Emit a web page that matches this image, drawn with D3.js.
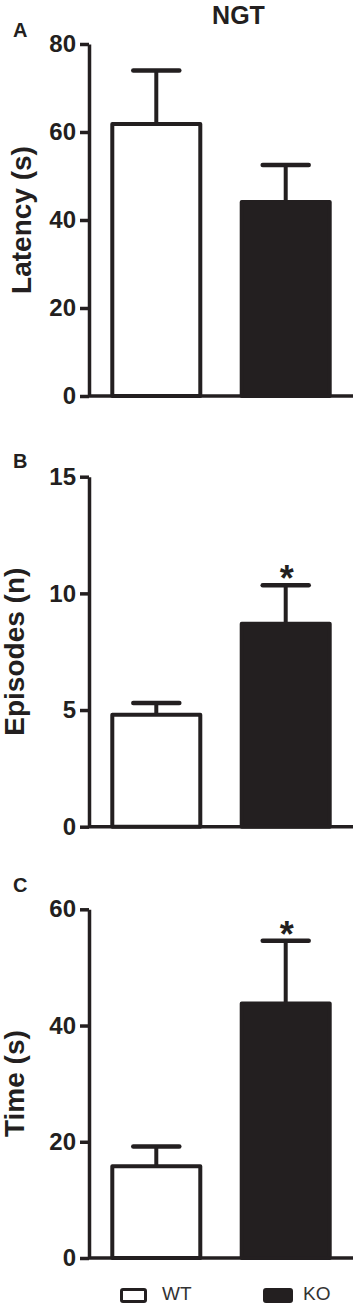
<!DOCTYPE html>
<html>
  <head>
    <meta charset="utf-8" />
    <title>NGT</title>
    <script src="https://d3js.org/d3.v7.min.js"></script>
    <style>
      body {
        margin: 0;
        background: #fff;
      }
      svg text {
        font-family: "Liberation Sans", Arial, Helvetica, sans-serif;
        fill: #231f20;
      }
      .tick text {
        font-size: 24px;
        font-weight: bold;
      }
      .tick line,
      .domain {
        stroke: #231f20;
        stroke-width: 3.5;
      }
    </style>
  </head>
  <body>
    <svg id="chart" width="355" height="1304"></svg>

    <script>
      // data
      const groups = ["WT", "KO"];
      const latencyMean = [61.8, 44.1];
      const latencySem = [12.2, 8.4];
      const episodesMean = [4.8, 8.7];
      const episodesSem = [0.5, 1.65];
      const timeMean = [15.8, 43.8];
      const timeSem = [3.4, 10.8];
      const latencyTicks = [0, 20, 40, 60, 80];
      const episodesTicks = [0, 5, 10, 15];
      const timeTicks = [0, 20, 40, 60];
      const episodesStars = ["", "*"];
      const timeStars = ["", "*"];

      const ink = "#231f20";
      const svg = d3.select("#chart");

      // shared x scale, same for all three panels
      const x = d3.scaleBand()
        .domain(groups)
        .range([89, 353])
        .paddingInner(0.32)
        .paddingOuter(0.18);

      const panels = [
        { letter: "A", label: "Latency (s)", mean: latencyMean, sem: latencySem, ticks: latencyTicks,
          stars: ["", ""], top: 44, bottom: 396, letterY: 37, labelX: 31 },
        { letter: "B", label: "Episodes (n)", mean: episodesMean, sem: episodesSem, ticks: episodesTicks,
          stars: episodesStars, top: 476.7, bottom: 826.7, letterY: 468, labelX: 24 },
        { letter: "C", label: "Time (s)", mean: timeMean, sem: timeSem, ticks: timeTicks,
          stars: timeStars, top: 909.3, bottom: 1258, letterY: 892, labelX: 24 }
      ];

      panels.forEach(p => {
        const y = d3.scaleLinear()
          .domain([0, d3.max(p.ticks)])
          .range([p.bottom, p.top]);
        const g = svg.append("g");
        const rows = groups.map((k, i) => ({ key: k, mean: p.mean[i], sem: p.sem[i], star: p.stars[i] }));

        // error bars (upper only)
        rows.forEach(d => {
          const cx = x(d.key) + x.bandwidth() / 2;
          g.append("line")
            .attr("x1", cx).attr("x2", cx)
            .attr("y1", y(d.mean)).attr("y2", y(d.mean + d.sem))
            .attr("stroke", ink).attr("stroke-width", 4);
          g.append("line")
            .attr("x1", cx - 23).attr("x2", cx + 23)
            .attr("y1", y(d.mean + d.sem)).attr("y2", y(d.mean + d.sem))
            .attr("stroke", ink).attr("stroke-width", 4.5)
            .attr("stroke-linecap", "round");
          if (d.star) {
            g.append("text")
              .attr("x", cx + 1)
              .attr("y", y(d.mean + d.sem) + 6)
              .attr("text-anchor", "middle")
              .style("font-size", "36px")
              .style("font-weight", "bold")
              .text(d.star);
          }
        });

        // bars
        g.selectAll("rect")
          .data(rows)
          .join("rect")
          .attr("x", d => x(d.key))
          .attr("y", d => y(d.mean))
          .attr("width", x.bandwidth())
          .attr("height", d => y(0) - y(d.mean))
          .attr("fill", (d, i) => i === 0 ? "#fff" : ink)
          .attr("stroke", ink)
          .attr("stroke-width", 4)
          .attr("stroke-linejoin", "round");

        // axes
        g.append("g")
          .attr("transform", "translate(89,0)")
          .call(d3.axisLeft(y).tickValues(p.ticks).tickSize(9).tickSizeOuter(0).tickPadding(4));
        g.append("line")
          .attr("x1", 89).attr("x2", 353)
          .attr("y1", y(0)).attr("y2", y(0))
          .attr("stroke", ink).attr("stroke-width", 3.5);

        // y label
        g.append("text")
          .attr("transform", `translate(${p.labelX},${(p.top + p.bottom) / 2}) rotate(-90)`)
          .attr("text-anchor", "middle")
          .style("font-size", "28px")
          .style("font-weight", "bold")
          .text(p.label);

        // panel letter
        g.append("text")
          .attr("x", 13)
          .attr("y", p.letterY)
          .style("font-size", "20px")
          .style("font-weight", "bold")
          .text(p.letter);
      });

      // title
      svg.append("text")
        .attr("x", 238.5)
        .attr("y", 23.5)
        .attr("text-anchor", "middle")
        .style("font-size", "25px")
        .style("font-weight", "bold")
        .text("NGT");

      // legend
      const legend = svg.append("g");
      const legendX = [120, 263];
      groups.forEach((k, i) => {
        legend.append("rect")
          .attr("x", legendX[i] + 1.5).attr("y", 1289.5)
          .attr("width", i === 0 ? 24 : 27).attr("height", 12)
          .attr("rx", 1.5)
          .attr("fill", i === 0 ? "#fff" : ink)
          .attr("stroke", ink).attr("stroke-width", 3);
        legend.append("text")
          .attr("x", legendX[i] + (i === 0 ? 42 : 40))
          .attr("y", 1299.5)
          .style("font-size", "19px")
          .style("fill", "#333")
          .text(k);
      });
    </script>
  </body>
</html>
